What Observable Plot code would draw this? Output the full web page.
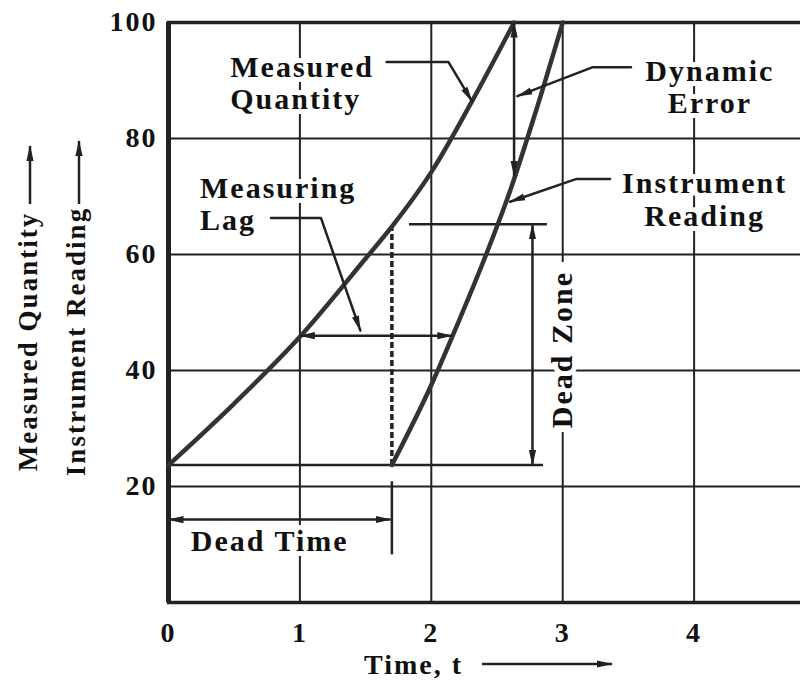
<!DOCTYPE html>
<html><head><meta charset="utf-8">
<script src="https://cdn.jsdelivr.net/npm/d3@7"></script>
<script src="https://cdn.jsdelivr.net/npm/@observablehq/plot@0.6"></script>
<style>
html,body{margin:0;padding:0;background:#fff;overflow:hidden;}
</style></head><body><div id="chart"></div>
<script>
// ---- data (time t, value %) ----
const xTicks = [0, 1, 2, 3, 4];
const yTicks = [20, 40, 60, 80, 100];
const gridX = [1, 2, 4];
const gridY = [20, 40, 60, 80];

const measuredT = [0, 0.5, 1, 1.5, 1.7, 2, 2.3, 2.63];
const measuredV = [23.7, 34.3, 45.8, 59.3, 64.8, 74.2, 86, 100];

const instrumentT = [1.7, 2.0, 2.2, 2.4, 2.6, 2.8, 3.0];
const instrumentV = [23.7, 37.5, 48, 59, 71, 85, 100];

const initialLevel = 23.7;
const deadTime = 1.7;
const deadZoneTop = 65.2;

// annotation texts
const startLabels = [
  {text: "Measured\nQuantity", t: 0.47, v: 85.1},
  {text: "Measuring\nLag", t: 0.24, v: 64.2},
  {text: "Dead Time", t: 0.17, v: 8.8}
];
const middleLabels = [
  {text: "Dynamic\nError", t: 4.12, v: 84.4},
  {text: "Instrument\nReading", t: 4.08, v: 65.0}
];
const rotatedLabels = [{text: "Dead Zone", t: 3.0, v: 43.6}];

// leader lines (last point carries the arrowhead)
const leaders = [
  {id: "mq", t: 1.66, v: 93.2}, {id: "mq", t: 2.13, v: 93.2}, {id: "mq", t: 2.31, v: 86.4},
  {id: "lag", t: 0.78, v: 66.3}, {id: "lag", t: 1.16, v: 66.3}, {id: "lag", t: 1.46, v: 46.9},
  {id: "de", t: 3.52, v: 92.3}, {id: "de", t: 3.23, v: 92.3}, {id: "de", t: 2.655, v: 87.3},
  {id: "ir", t: 3.36, v: 73.0}, {id: "ir", t: 3.10, v: 73.0}, {id: "ir", t: 2.60, v: 69.1}
];

// double-headed dimension arrows
const dimArrows = [
  {t1: 1.0, v1: 46.0, t2: 2.16, v2: 46.0},      // measuring lag
  {t1: 2.63, v1: 100, t2: 2.63, v2: 73.6},      // dynamic error
  {t1: 2.77, v1: 65.2, t2: 2.77, v2: 23.7},     // dead zone
  {t1: 0.0, v1: 14.3, t2: 1.69, v2: 14.3}       // dead time
];

// plain segments
const segments = [
  {t1: 0, v1: initialLevel, t2: 2.85, v2: initialLevel},
  {t1: 1.83, v1: deadZoneTop, t2: 2.88, v2: deadZoneTop},
  {t1: deadTime, v1: 8.3, t2: deadTime, v2: 20.9}
];
// grid line at t = 3, interrupted by the "Dead Zone" label
const gridBroken = [
  {t1: 3, v1: 0, t2: 3, v2: 29.4},
  {t1: 3, v1: 58.7, t2: 3, v2: 100}
];
const dashed = [{t1: deadTime, v1: initialLevel, t2: deadTime, v2: 64.8}];

const measured = measuredT.map((t, i) => ({t, v: measuredV[i]}));
const instrument = instrumentT.map((t, i) => ({t, v: instrumentV[i]}));

const ink = "#222";
const fontFamily = "'Liberation Serif', 'Times New Roman', serif";
const halo = {fill: "#111", stroke: "white", strokeWidth: 10, paintOrder: "stroke"};

const svg = Plot.plot({
  width: 800, height: 688,
  marginLeft: 168, marginRight: -25, marginTop: 22, marginBottom: 86,
  x: {domain: [0, 5], axis: null},
  y: {domain: [0, 100], axis: null},
  style: {fontFamily, fontWeight: "bold", background: "#fff", overflow: "hidden", color: ink, letterSpacing: "2px"},
  marks: [
    Plot.ruleY(gridY, {y: d => d, stroke: ink, strokeWidth: 2}),
    Plot.ruleX(gridX, {x: d => d, stroke: ink, strokeWidth: 2}),
    Plot.link(gridBroken, {x1: "t1", y1: "v1", x2: "t2", y2: "v2", stroke: ink, strokeWidth: 2}),
    Plot.frame({stroke: ink, strokeWidth: 3.5}),
    Plot.ruleX([0], {x: d => d, stroke: ink, strokeWidth: 5}),

    Plot.text(startLabels, {x: "t", y: "v", text: "text", textAnchor: "start", lineAnchor: "bottom", lineHeight: 1.07, fontSize: 30, ...halo}),
    Plot.text(middleLabels, {x: "t", y: "v", text: "text", textAnchor: "middle", lineAnchor: "bottom", lineHeight: 1.07, fontSize: 30, ...halo}),
    Plot.text(rotatedLabels, {x: "t", y: "v", text: "text", rotate: -90, textAnchor: "middle", lineAnchor: "middle", fontSize: 30, ...halo}),

    Plot.link(segments, {x1: "t1", y1: "v1", x2: "t2", y2: "v2", stroke: ink, strokeWidth: 2.5}),
    Plot.link(dashed, {x1: "t1", y1: "v1", x2: "t2", y2: "v2", stroke: ink, strokeWidth: 3.5, strokeDasharray: "6,3"}),

    Plot.line(measured, {x: "t", y: "v", curve: "monotone-x", stroke: "#333", strokeWidth: 4.5}),
    Plot.line(instrument, {x: "t", y: "v", curve: "monotone-x", stroke: "#333", strokeWidth: 4.5}),

    Plot.link(dimArrows, {x1: "t1", y1: "v1", x2: "t2", y2: "v2", stroke: ink, strokeWidth: 2.5, markerStart: "arrow", markerEnd: "arrow"}),
    Plot.line(leaders, {x: "t", y: "v", z: "id", stroke: ink, strokeWidth: 2.5, markerEnd: "arrow", curve: "linear"}),

    // tick labels
    Plot.text(xTicks, {x: d => d, y: () => 0, text: d => String(d), dy: 39, textAnchor: "middle", lineAnchor: "bottom", fontSize: 28, fill: "#111"}),
    Plot.text(yTicks, {x: () => 0, y: d => d, text: d => String(d), dx: -11, textAnchor: "end", lineAnchor: "middle", fontSize: 28, fill: "#111"}),

    // axis titles
    Plot.text(["Time, t"], {frameAnchor: "bottom-left", text: d => d, textAnchor: "middle", dx: 413 - 168, dy: 71, lineAnchor: "bottom", fontSize: 28, fill: "#111"}),
    Plot.text(["Measured Quantity"], {frameAnchor: "left", text: d => d, rotate: -90, textAnchor: "middle", dx: -140, dy: 29, lineAnchor: "middle", fontSize: 27, fill: "#111"}),
    Plot.text(["Instrument Reading"], {frameAnchor: "left", text: d => d, rotate: -90, textAnchor: "middle", dx: -92, dy: 29, lineAnchor: "middle", fontSize: 27, fill: "#111"})
  ]
});

// restyle arrow markers as filled narrow heads
d3.select(svg).selectAll("marker").each(function () {
  const m = d3.select(this);
  m.attr("viewBox", "-15 -5 16 10").attr("markerWidth", 16).attr("markerHeight", 10)
   .attr("markerUnits", "userSpaceOnUse").attr("orient", "auto-start-reverse")
   .attr("fill", ink).attr("stroke", "none");
  m.selectAll("*").remove();
  m.append("path").attr("d", "M-15,-3.6L1,0L-15,3.6Z");
});

// arrows beside axis titles
const defs = d3.select(svg).append("defs");
defs.append("marker").attr("id", "axis-arrow").attr("viewBox", "-15 -5 16 10")
  .attr("markerWidth", 16).attr("markerHeight", 10).attr("markerUnits", "userSpaceOnUse")
  .attr("orient", "auto").attr("fill", ink)
  .append("path").attr("d", "M-15,-3.6L1,0L-15,3.6Z");
const deco = d3.select(svg).append("g").attr("stroke", ink).attr("stroke-width", 2.5);
[[30, 204, 30, 146], [79, 204, 79, 141], [482, 664, 612, 664]].forEach(([a, b, c, e]) => {
  deco.append("line").attr("x1", a).attr("y1", b).attr("x2", c).attr("y2", e).attr("marker-end", "url(#axis-arrow)");
});

document.getElementById("chart").appendChild(svg);
</script></body></html>
